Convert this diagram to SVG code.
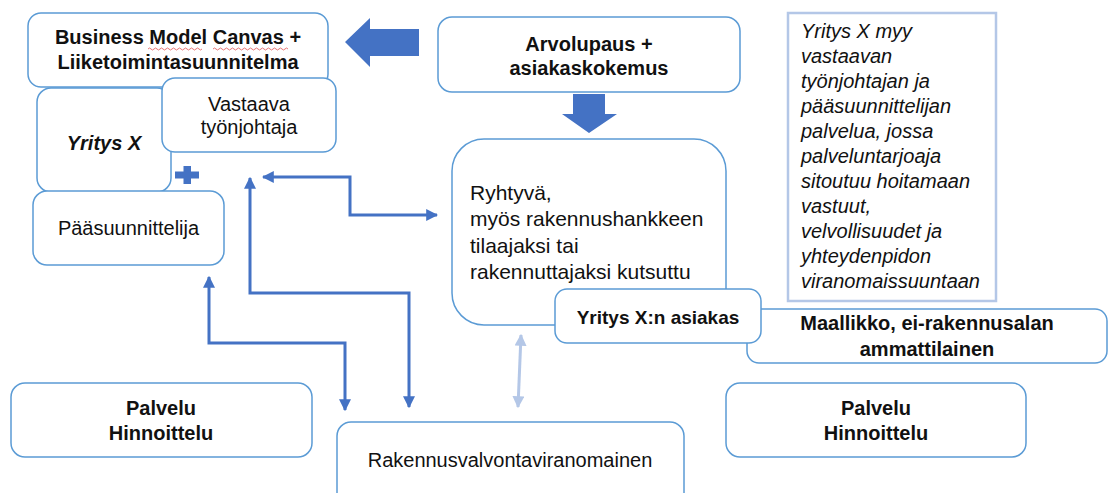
<svg xmlns="http://www.w3.org/2000/svg" width="1108" height="493" viewBox="0 0 1108 493">
<defs>
<style>
.box{fill:#fff;stroke:#5B9BD5;stroke-width:1.5}
.t{font-family:"Liberation Sans",Arial,sans-serif;font-size:20px;fill:#111}
.b{font-weight:bold}
.c{text-anchor:middle}
.i{font-style:italic}
.con{fill:none;stroke:#4472C4;stroke-width:3}
.light{fill:none;stroke:#B4C7E7;stroke-width:3}
.blk{fill:#4472C4}
</style>
<marker id="ah" viewBox="0 0 10 10" refX="9" refY="5" markerWidth="4" markerHeight="4" orient="auto-start-reverse" markerUnits="strokeWidth">
<path d="M0,0 L10,5 L0,10 Z" fill="#4472C4"/>
</marker>
<marker id="ahl" viewBox="0 0 10 10" refX="9" refY="5" markerWidth="4" markerHeight="4" orient="auto-start-reverse" markerUnits="strokeWidth">
<path d="M0,0 L10,5 L0,10 Z" fill="#B4C7E7"/>
</marker>
</defs>
<rect width="1108" height="493" fill="#fff"/>

<g id="bmc">
<rect class="box" x="28" y="13" width="300" height="74" rx="13"/>
<text class="t b c" x="178" y="44">Business Model Canvas +</text>
<text class="t b c" x="178" y="69">Liiketoimintasuunnitelma</text>
<path d="M148,49 q1.5,-2 3,0 t3,0 t3,0 t3,0 t3,0 t3,0 t3,0 t3,0 t3,0 t3,0 t3,0 t3,0 t3,0 t3,0 t3,0 t3,0 t3,0 t3,0 M213,49 q1.5,-2 3,0 t3,0 t3,0 t3,0 t3,0 t3,0 t3,0 t3,0 t3,0 t3,0 t3,0 t3,0 t3,0 t3,0 t3,0 t3,0 t3,0 t3,0 t3,0 t3,0 t3,0 t3,0 t3,0 t3,0 t3,0" fill="none" stroke="#E05050" stroke-width="0.8"/>
</g>

<g id="yritysx">
<rect class="box" x="37" y="88" width="134" height="104" rx="14"/>
<text class="t b i c" x="104" y="150">Yritys X</text>
</g>

<g id="vastaava">
<rect class="box" x="162" y="78" width="174" height="74" rx="13"/>
<text class="t c" x="249" y="111">Vastaava</text>
<text class="t c" x="249" y="134">työnjohtaja</text>
</g>

<g id="plus">
<rect class="blk" x="175" y="171.5" width="24" height="7"/>
<rect class="blk" x="183.5" y="166" width="7.5" height="18"/>
</g>

<g id="paasuunnittelija">
<rect class="box" x="33" y="191" width="191" height="74" rx="14"/>
<text class="t c" x="128.5" y="235">Pääsuunnittelija</text>
</g>

<g id="arvolupaus">
<rect class="box" x="438" y="17" width="302" height="75" rx="14"/>
<text class="t b c" x="589" y="51">Arvolupaus +</text>
<text class="t b c" x="589" y="75">asiakaskokemus</text>
</g>

<g id="arrow-left">
<polygon class="blk" points="345,42 370,18 370,29 419,29 419,56 370,56 370,67"/>
</g>

<g id="arrow-down">
<polygon class="blk" points="573,94 605,94 605,114 617,114 589,133 562,114 573,114"/>
</g>

<g id="ryhtyva">
<rect class="box" x="452" y="139" width="274" height="186" rx="32"/>
<text class="t" x="470" y="200" style="font-size:21px">Ryhtyvä,</text>
<text class="t" x="470" y="226" style="font-size:21px">myös rakennushankkeen</text>
<text class="t" x="470" y="253" style="font-size:21px">tilaajaksi tai</text>
<text class="t" x="470" y="279" style="font-size:21px">rakennuttajaksi kutsuttu</text>
</g>

<g id="kuvaus">
<rect x="788" y="13" width="208" height="288" fill="#fff" stroke="#B4C7E7" stroke-width="2.5"/>
<text class="t i" x="801" y="38">Yritys X myy</text>
<text class="t i" x="801" y="63">vastaavan</text>
<text class="t i" x="801" y="88">työnjohtajan ja</text>
<text class="t i" x="801" y="113">pääsuunnittelijan</text>
<text class="t i" x="801" y="138">palvelua, jossa</text>
<text class="t i" x="801" y="163">palveluntarjoaja</text>
<text class="t i" x="801" y="188">sitoutuu hoitamaan</text>
<text class="t i" x="801" y="213">vastuut,</text>
<text class="t i" x="801" y="238">velvollisuudet ja</text>
<text class="t i" x="801" y="263">yhteydenpidon</text>
<text class="t i" x="801" y="288">viranomaissuuntaan</text>
</g>

<g id="maallikko">
<rect class="box" x="747" y="309" width="360" height="54" rx="12"/>
<text class="t b c" x="927" y="330">Maallikko, ei-rakennusalan</text>
<text class="t b c" x="927" y="356">ammattilainen</text>
</g>

<g id="asiakas">
<rect class="box" x="555" y="289" width="206" height="54" rx="12"/>
<text class="t b c" x="658" y="324" style="font-size:19px">Yritys X:n asiakas</text>
</g>

<g id="palvelu-vasen">
<rect class="box" x="11" y="383" width="301" height="74" rx="14"/>
<text class="t b c" x="161" y="415">Palvelu</text>
<text class="t b c" x="161" y="440">Hinnoittelu</text>
</g>

<g id="palvelu-oikea">
<rect class="box" x="726" y="383" width="300" height="74" rx="14"/>
<text class="t b c" x="876" y="415">Palvelu</text>
<text class="t b c" x="876" y="440">Hinnoittelu</text>
</g>

<g id="rakennusvalvonta">
<rect class="box" x="337" y="422" width="347" height="95" rx="14"/>
<text class="t c" x="510" y="467">Rakennusvalvontaviranomainen</text>
</g>

<g id="connectors">
<path class="con" d="M437,215 H350 V177 H263" marker-start="url(#ah)" marker-end="url(#ah)"/>
<path class="con" d="M250,178 V293 H409 V407" marker-start="url(#ah)" marker-end="url(#ah)"/>
<path class="con" d="M209,277 V343 H345 V410" marker-start="url(#ah)" marker-end="url(#ah)"/>
<path class="light" d="M521,335 L518,407" marker-start="url(#ahl)" marker-end="url(#ahl)"/>
</g>
</svg>
